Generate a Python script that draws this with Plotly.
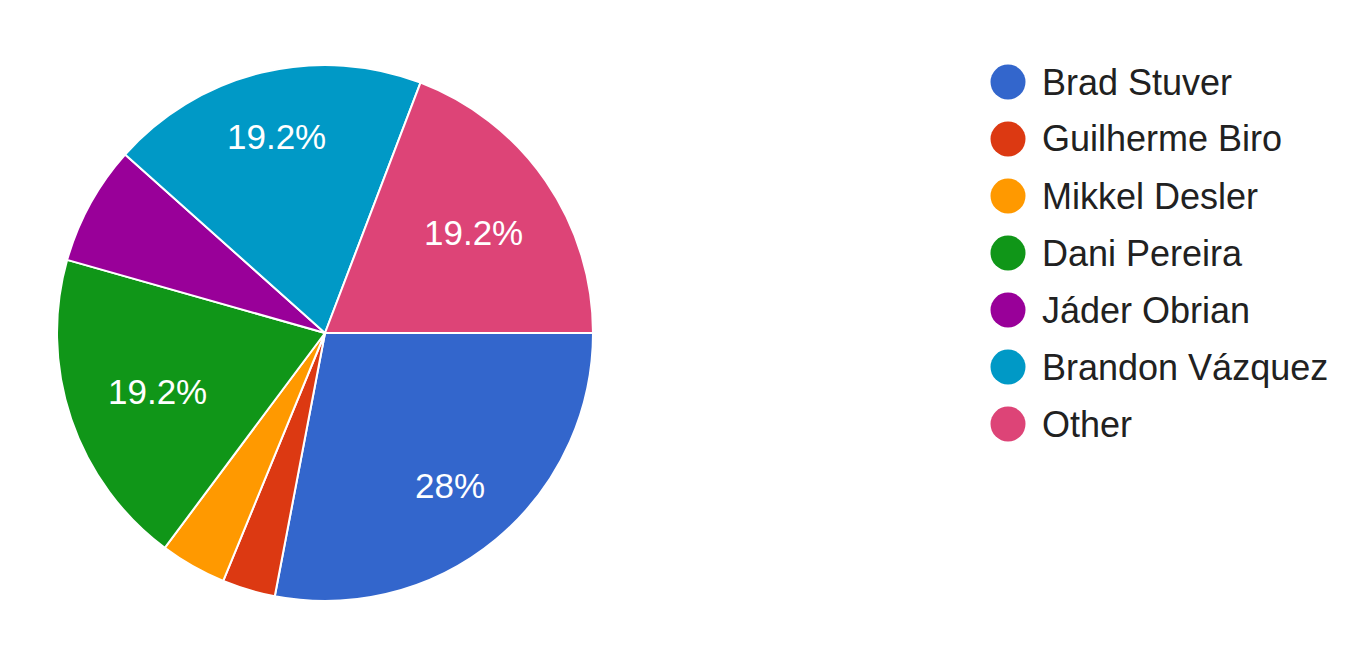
import math
import plotly.graph_objects as go

categories = ["Brad Stuver", "Guilherme Biro", "Mikkel Desler", "Dani Pereira",
              "Jáder Obrian", "Brandon Vázquez", "Other"]
votes = [35, 4, 5, 24, 9, 24, 24]
colors = ["#3366cc", "#dc3912", "#ff9900", "#109618", "#990099", "#0099c6", "#dd4477"]

FONT = "Arial, Liberation Sans, sans-serif"
W, H = 1369, 657
cx, cy, r = 325, 333, 268
label_size = 35

total = sum(votes)

fig = go.Figure()
fig.add_trace(go.Pie(
    labels=categories, values=votes, sort=False, direction="clockwise", rotation=90,
    marker=dict(colors=colors, line=dict(color="white", width=2)),
    textinfo="none", showlegend=False, hoverinfo="label+percent",
    domain=dict(x=[(cx - r) / W, (cx + r) / W], y=[(H - cy - r) / H, (H - cy + r) / H]),
))

# percentage labels placed Google-Charts style (outer edge of text box near 0.85 r)
char_w = {"%": 0.889, ".": 0.278}
cum = 0
for v in votes:
    share = v / total
    mid = (cum + v / 2) / total * 2 * math.pi
    cum += v
    if share < 0.1:
        continue
    txt = f"{share * 100:.1f}".rstrip("0").rstrip(".") + "%"
    hw = sum(char_w.get(c, 0.556) for c in txt) * label_size / 2
    hh = 0.716 * label_size / 2
    dx, dy = math.cos(mid), math.sin(mid)
    dist = 0.85 * r - (hw * abs(dx) + hh * abs(dy))
    px, py = cx + dist * dx, cy + dist * dy + 2
    fig.add_annotation(x=px / W, y=1 - py / H, xref="paper", yref="paper",
                       text=txt, showarrow=False, xanchor="center", yanchor="middle",
                       font=dict(family=FONT, size=label_size, color="white"))

# legend drawn as circles + text
lx, ly0, step = 1008, 82, 57
for i, (name, col) in enumerate(zip(categories, colors)):
    y = ly0 + i * step
    fig.add_shape(type="circle", xref="paper", yref="paper",
                  x0=(lx - 17.5) / W, x1=(lx + 17.5) / W,
                  y0=1 - (y + 17.5) / H, y1=1 - (y - 17.5) / H,
                  fillcolor=col, line=dict(width=0))
    fig.add_annotation(x=1040 / W, y=1 - y / H, xref="paper", yref="paper",
                       text=name, showarrow=False, xanchor="left", yanchor="middle",
                       font=dict(family=FONT, size=36, color="#212121"))

fig.update_layout(width=W, height=H, margin=dict(l=0, r=0, t=0, b=0),
                  paper_bgcolor="white", plot_bgcolor="white")
fig.write_html("out.html", config={"displayModeBar": False},
               post_script="document.body.style.margin='0';")
